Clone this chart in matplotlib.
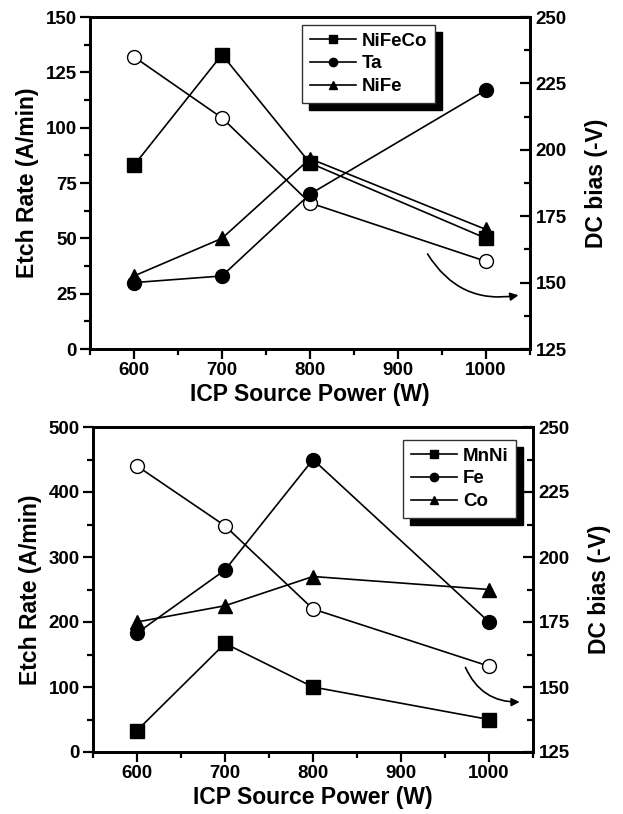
import numpy as np
import matplotlib
matplotlib.use("Agg")
import matplotlib.pyplot as plt
from matplotlib.ticker import MultipleLocator

plt.rcParams['font.family'] = ['Liberation Sans', 'DejaVu Sans']
plt.rcParams['font.weight'] = 'bold'

power = [600, 700, 800, 1000]

# top panel
nifeco = [83, 133, 84, 50]
ta = [30, 33, 70, 117]
nife = [33, 50, 86, 54]

# bottom panel
mnni = [33, 167, 100, 50]
fe = [183, 280, 450, 200]
co = [200, 225, 270, 250]

# DC bias (same in both panels)
dc_bias = [235, 212, 180, 158]

fig = plt.figure(figsize=(6.23, 8.14), dpi=100)


def make_panel(rect, series, labels, ylim, ymajor, legend_xy, arrow):
    ax = fig.add_axes(rect)
    ax2 = ax.twinx()
    markers = ['s', 'o', '^']
    handles = []
    for vals, lab, m in zip(series, labels, markers):
        h, = ax.plot(power, vals, color='black', lw=1.2, marker=m, ms=10,
                     mfc='black', mec='black', label=lab)
        handles.append(h)
    ax2.plot(power, dc_bias, color='black', lw=1.2, marker='o', ms=10,
             mfc='white', mec='black', mew=1.0)

    ax.set_xlim(550, 1050)
    ax.set_ylim(*ylim)
    ax2.set_ylim(125, 250)
    ax.xaxis.set_minor_locator(MultipleLocator(50))
    ax.set_xticks([600, 700, 800, 900, 1000])
    ax.yaxis.set_major_locator(MultipleLocator(ymajor))
    ax.yaxis.set_minor_locator(MultipleLocator(ymajor / 2))
    ax2.yaxis.set_major_locator(MultipleLocator(25))
    ax2.yaxis.set_minor_locator(MultipleLocator(12.5))

    ax.tick_params(axis='both', which='major', direction='out', length=7,
                   width=1.6, labelsize=13.5, top=False, right=False, pad=2.5)
    ax.tick_params(axis='both', which='minor', direction='out', length=4,
                   width=1.6, top=False, right=False)
    ax2.tick_params(axis='y', which='major', direction='in', length=7,
                    width=1.6, labelsize=13.5, pad=4)
    ax2.tick_params(axis='y', which='minor', direction='in', length=4,
                    width=1.6)
    for a in (ax, ax2):
        for s in a.spines.values():
            s.set_linewidth(2.0)
        for t in a.get_xticklabels() + a.get_yticklabels():
            t.set_fontweight('bold')

    ax.set_xlabel('ICP Source Power (W)', fontsize=16.5, fontweight='bold',
                  labelpad=3)
    ax.set_ylabel('Etch Rate (A/min)', fontsize=16.5, fontweight='bold',
                  labelpad=5)
    ax2.set_ylabel('DC bias (-V)', fontsize=16.5, fontweight='bold',
                   labelpad=13)

    leg = ax.legend(handles=handles, loc='upper left',
                    bbox_to_anchor=legend_xy, bbox_transform=fig.transFigure,
                    borderaxespad=0, fancybox=False, framealpha=1,
                    edgecolor='#333333', fontsize=13.5, handlelength=2.5,
                    handletextpad=0.3, labelspacing=0.3, borderpad=0.4,
                    markerscale=0.6,
                    shadow={'ox': 5, 'oy': -5, 'facecolor': 'black',
                            'edgecolor': 'black', 'alpha': 1})
    leg.get_frame().set_linewidth(1.0)
    for t in leg.get_texts():
        t.set_fontweight('bold')
    ax.set_zorder(ax2.get_zorder() + 1)
    ax.patch.set_visible(False)

    (x0, y0), (x1, y1) = arrow
    ax.annotate('', xy=(x1, y1), xytext=(x0, y0),
                arrowprops=dict(arrowstyle='-|>', color='black', lw=1.2,
                                mutation_scale=12,
                                connectionstyle='arc3,rad=0.35'))
    return ax, ax2


make_panel([90 / 623, 1 - 349 / 814, 440 / 623, 332 / 814],
           [nifeco, ta, nife], ['NiFeCo', 'Ta', 'NiFe'], (0, 150), 25,
           (302 / 623, 1 - 25 / 814),
           ((932, 44), (1040, 24.5)))

make_panel([93 / 623, 1 - 752 / 814, 440 / 623, 325 / 814],
           [mnni, fe, co], ['MnNi', 'Fe', 'Co'], (0, 500), 100,
           (403 / 623, 1 - 440 / 814),
           ((972, 134), (1038, 77)))

fig.savefig('out.png', dpi=100)
